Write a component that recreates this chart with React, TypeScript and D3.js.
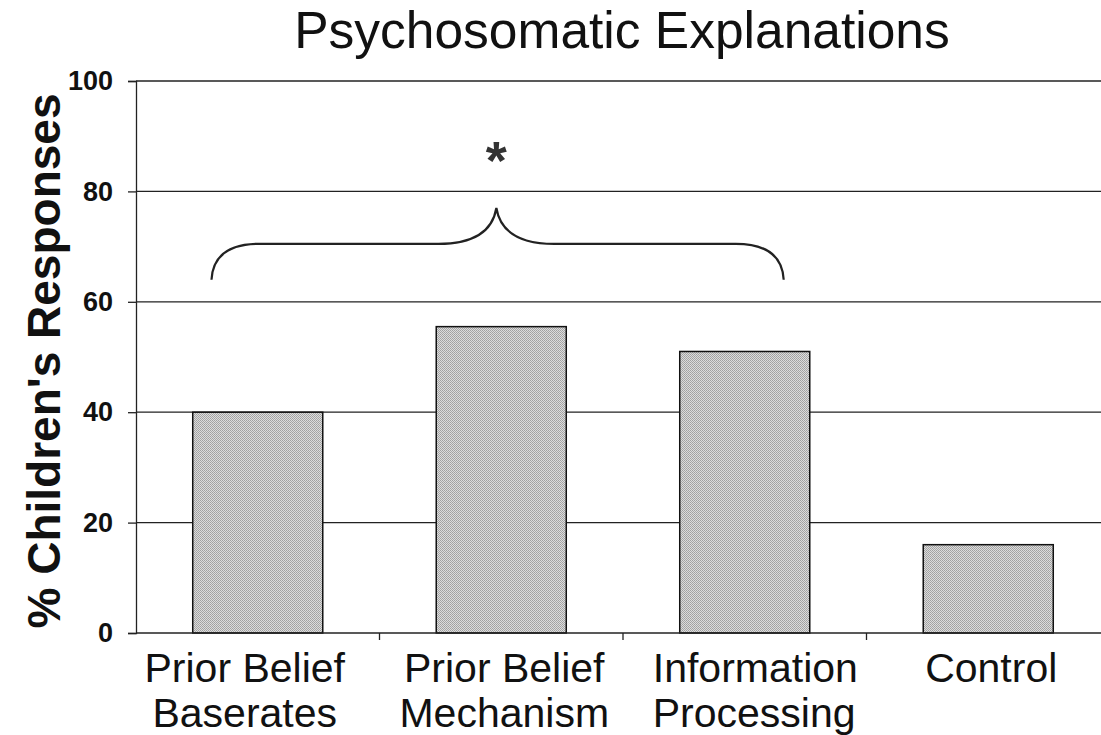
import React, { useEffect, useRef } from "react";
import * as d3 from "d3";

const categories = ["Prior Belief Baserates", "Prior Belief Mechanism", "Information Processing", "Control"];
const labelLines = [
  ["Prior Belief", "Baserates"],
  ["Prior Belief", "Mechanism"],
  ["Information", "Processing"],
  ["Control"],
];
const values = [40, 55.5, 51, 16];
const yTicks = [0, 20, 40, 60, 80, 100];

// brace annotation in (category index, percent) space
const braceFrom = -0.19;
const braceTo = 2.16;
const bracePeak = 0.98;
const braceEndY = 64;
const braceMidY = 70.5;
const bracePeakY = 77;

const FONT = "'Liberation Sans', Arial, sans-serif";

const App: React.FC = () => {
  const svgRef = useRef<SVGSVGElement>(null);

  useEffect(() => {
    if (!svgRef.current) return;
    const svg = d3.select(svgRef.current);
    svg.selectAll("*").remove();

    const W = 1101;
    const H = 735;
    const margin = { top: 81, left: 136, bottom: 102 };
    const plotRight = 1110;
    const y0 = H - margin.bottom;

    const x = d3.scaleBand<string>().domain(categories).range([margin.left, plotRight]).padding(0);
    const y = d3.scaleLinear().domain([0, 100]).range([y0, margin.top]);
    const bw = x.bandwidth();
    const barW = bw * 0.534;
    const idx = (i: number) => margin.left + (i + 0.5) * bw;

    // stipple fill
    const defs = svg.append("defs");
    const pat = defs
      .append("pattern")
      .attr("id", "stipple")
      .attr("width", 2)
      .attr("height", 2)
      .attr("patternUnits", "userSpaceOnUse");
    pat.append("rect").attr("width", 2).attr("height", 2).attr("fill", "#dcdcdc");
    pat.append("rect").attr("width", 1).attr("height", 1).attr("fill", "#a0a0a0");
    pat.append("rect").attr("x", 1).attr("y", 1).attr("width", 1).attr("height", 1).attr("fill", "#a8a8a8");

    svg.append("rect").attr("width", W).attr("height", H).attr("fill", "#fff");

    // title
    svg
      .append("text")
      .attr("x", 622)
      .attr("y", 48)
      .attr("text-anchor", "middle")
      .attr("font-family", FONT)
      .attr("font-size", 51.5)
      .attr("fill", "#111")
      .text("Psychosomatic Explanations");

    // grid lines
    svg
      .append("g")
      .selectAll("line")
      .data(yTicks.filter((t) => t > 0))
      .enter()
      .append("line")
      .attr("x1", margin.left)
      .attr("x2", W)
      .attr("y1", (d) => y(d))
      .attr("y2", (d) => y(d))
      .attr("stroke", "#222")
      .attr("stroke-width", 1.3);

    // bars
    svg
      .append("g")
      .selectAll("rect")
      .data(values)
      .enter()
      .append("rect")
      .attr("x", (d, i) => (x(categories[i]) || 0) + (bw - barW) / 2)
      .attr("y", (d) => y(d))
      .attr("width", barW)
      .attr("height", (d) => y0 - y(d))
      .attr("fill", "url(#stipple)")
      .attr("stroke", "#111")
      .attr("stroke-width", 1.5);

    // y axis
    const yAxis = d3.axisLeft(y).tickValues(yTicks).tickSize(8).tickFormat((d) => String(d));
    svg
      .append("g")
      .attr("transform", `translate(${margin.left},0)`)
      .call(yAxis)
      .call((g) => g.select(".domain").attr("stroke", "#222").attr("stroke-width", 1.3))
      .call((g) => g.selectAll(".tick line").attr("stroke", "#222").attr("stroke-width", 1.3))
      .call((g) =>
        g
          .selectAll(".tick text")
          .attr("x", -23)
          .attr("font-family", FONT)
          .attr("font-size", 27)
          .attr("font-weight", "bold")
          .attr("fill", "#111")
      );

    // x axis
    svg
      .append("line")
      .attr("x1", margin.left)
      .attr("x2", W)
      .attr("y1", y0)
      .attr("y2", y0)
      .attr("stroke", "#222")
      .attr("stroke-width", 1.3);
    svg
      .append("g")
      .selectAll("line")
      .data(categories.slice(1))
      .enter()
      .append("line")
      .attr("x1", (d) => x(d) || 0)
      .attr("x2", (d) => x(d) || 0)
      .attr("y1", y0)
      .attr("y2", y0 + 7)
      .attr("stroke", "#222")
      .attr("stroke-width", 1.3);

    // label placement tweaks: [anchor, offset from band centre]
    const labelAlign: [string, number][] = [
      ["middle", -13],
      ["middle", 3],
      ["start", -92],
      ["middle", 3],
    ];
    const labels = svg
      .append("g")
      .selectAll("text")
      .data(categories)
      .enter()
      .append("text")
      .attr("y", 682)
      .attr("text-anchor", (d, i) => labelAlign[i][0])
      .attr("font-family", FONT)
      .attr("font-size", 41)
      .attr("fill", "#111");
    labels.each(function (d, i) {
      const t = d3.select(this);
      const cx = (x(d) || 0) + bw / 2 + labelAlign[i][1];
      labelLines[i].forEach((line, k) => {
        t.append("tspan")
          .attr("x", cx)
          .attr("dy", k === 0 ? 0 : 45)
          .text(line);
      });
    });

    // y label
    svg
      .append("text")
      .attr("transform", `translate(60,${361}) rotate(-90)`)
      .attr("text-anchor", "middle")
      .attr("font-family", FONT)
      .attr("font-size", 46)
      .attr("font-weight", "bold")
      .attr("fill", "#111")
      .text("% Children's Responses");

    // brace
    const x0b = idx(braceFrom);
    const x1b = idx(braceTo);
    const xp = idx(bracePeak);
    const ye = y(braceEndY);
    const ym = y(braceMidY);
    const yp = y(bracePeakY);
    const p = d3.path();
    p.moveTo(x0b, ye);
    p.quadraticCurveTo(x0b + 2, ym, x0b + 48, ym);
    p.lineTo(xp - 58, ym);
    p.quadraticCurveTo(xp - 6, ym, xp, yp);
    p.quadraticCurveTo(xp + 6, ym, xp + 58, ym);
    p.lineTo(x1b - 48, ym);
    p.quadraticCurveTo(x1b - 2, ym, x1b, ye);
    svg
      .append("path")
      .attr("d", p.toString())
      .attr("fill", "none")
      .attr("stroke", "#222")
      .attr("stroke-width", 2.2);

    // asterisk
    svg
      .append("text")
      .attr("x", xp)
      .attr("y", 179)
      .attr("text-anchor", "middle")
      .attr("font-family", FONT)
      .attr("font-size", 54)
      .attr("font-weight", "bold")
      .attr("fill", "#333")
      .text("*");
  }, []);

  return (
    <svg
      ref={svgRef}
      width={1101}
      height={735}
      style={{ position: "absolute", left: 0, top: 0, display: "block" }}
    />
  );
};

export default App;
